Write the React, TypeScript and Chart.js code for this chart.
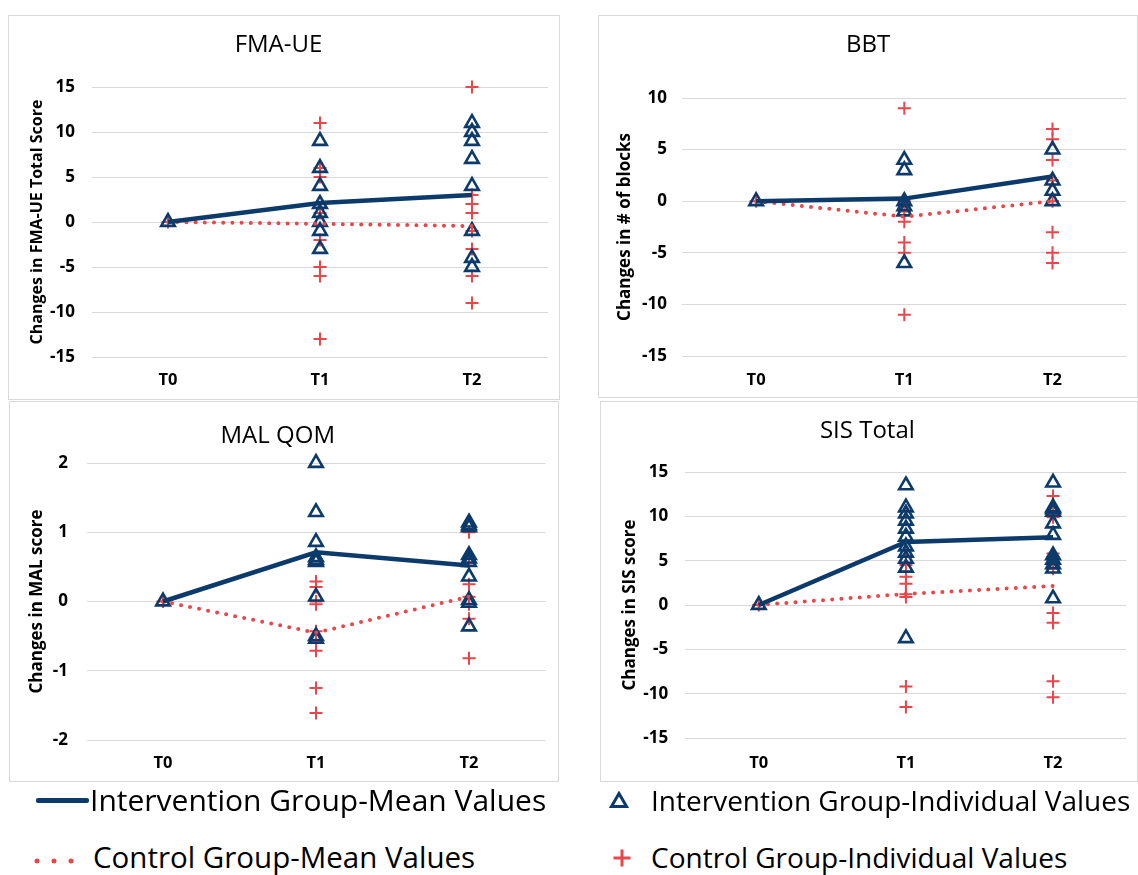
import React, { useEffect, useRef } from "react";
import { Chart, registerables } from "chart.js";

Chart.register(...registerables);

// ---------- data ----------
const categories = ["T0", "T1", "T2"];

// FMA-UE
const fmaIntT0 = [0];
const fmaIntT1 = [9, 6, 4, 2, 1, 0, -1, -3];
const fmaIntT2 = [11, 10, 9, 7, 4, -1, -4, -5];
const fmaCtrlT0 = [0];
const fmaCtrlT1 = [11, 6, 5, 1, -2, -5, -6, -13];
const fmaCtrlT2 = [15, 3, 2, 1, -1, -3, -6, -9];
const fmaIntMean = [0, 2.1, 3.0];
const fmaCtrlMean = [0, -0.2, -0.45];

// BBT
const bbtIntT0 = [0];
const bbtIntT1 = [4, 3, 0, -0.5, -1, -6];
const bbtIntT2 = [12, 5, 2, 1, 0];
const bbtCtrlT0 = [0];
const bbtCtrlT1 = [9, 0, -1, -2, -4, -5, -11];
const bbtCtrlT2 = [7, 6, 4, 2, 0, -3, -5, -6];
const bbtIntMean = [0, 0.25, 2.4];
const bbtCtrlMean = [0, -1.5, 0];

// MAL QOM
const malIntT0 = [0];
const malIntT1 = [2, 1.29, 0.86, 0.64, 0.6, 0.57, 0.07, -0.5, -0.54];
const malIntT2 = [1.14, 1.1, 1.07, 0.67, 0.62, 0.57, 0.36, 0.02, -0.02, -0.36];
const malCtrlT0 = [0];
const malCtrlT1 = [0.29, 0.21, 0, -0.04, -0.43, -0.57, -0.71, -1.25, -1.61];
const malCtrlT2 = [1.0, 0.55, 0.25, 0.07, -0.04, -0.25, -0.82];
const malIntMean = [0, 0.71, 0.52];
const malCtrlMean = [0, -0.45, 0.07];

// SIS Total
const sisIntT0 = [0];
const sisIntT1 = [13.5, 11, 10.3, 9.5, 8.6, 7.7, 6.6, 5.9, 5.2, 4.2, -3.75];
const sisIntT2 = [13.8, 11, 10.8, 10.5, 9.2, 7.9, 5.6, 5.1, 4.6, 4.1, 0.75];
const sisCtrlT0 = [0];
const sisCtrlT1 = [10.6, 6.2, 5.5, 4.5, 3.2, 2.4, 1.2, 0.9, -9.2, -11.5];
const sisCtrlT2 = [12.3, 10.3, 9.9, 5.8, 5.4, 4.1, -0.9, -2.0, -8.6, -10.4];
const sisIntMean = [0, 7.1, 7.65];
const sisCtrlMean = [0, 1.25, 2.15];

const legendLabels = [
  "Intervention Group-Mean Values",
  "Control Group-Mean Values",
  "Intervention Group-Individual Values",
  "Control Group-Individual Values",
];

// ---------- styles ----------
const NAVY = "#0b3a6b";
const RED = "#e8464a";
const FONT = "'Open Sans', sans-serif";
const GRID = "#d9d9d9";

function pts(t0: number[], t1: number[], t2: number[]) {
  return [
    ...t0.map((y) => ({ x: categories[0], y })),
    ...t1.map((y) => ({ x: categories[1], y })),
    ...t2.map((y) => ({ x: categories[2], y })),
  ];
}

type Panel = {
  title: string;
  yTitle: string;
  min: number;
  max: number;
  step: number;
  intMean: number[];
  ctrlMean: number[];
  intPts: { x: string; y: number }[];
  ctrlPts: { x: string; y: number }[];
  box: { left: number; top: number; w: number; h: number };
  yWidth: number;
  rightPad: number;
  xHeight: number;
  titlePad: { top: number; bottom: number };
  yTickPad: number;
  yTitleSize: number;
  yTitlePad: number;
  xTickPad: number;
};

const panels: Panel[] = [
  {
    title: "FMA-UE",
    yTitle: "Changes in FMA-UE Total Score",
    min: -15, max: 15, step: 5,
    intMean: fmaIntMean, ctrlMean: fmaCtrlMean,
    intPts: pts(fmaIntT0, fmaIntT1, fmaIntT2),
    ctrlPts: pts(fmaCtrlT0, fmaCtrlT1, fmaCtrlT2),
    box: { left: 8, top: 15, w: 552, h: 385 },
    yWidth: 83, rightPad: 11, xHeight: 42,
    titlePad: { top: 14.6, bottom: 27.6 },
    yTickPad: 17, yTitleSize: 16, yTitlePad: 18.4, xTickPad: 13,
  },
  {
    title: "BBT",
    yTitle: "Changes in # of blocks",
    min: -15, max: 10, step: 5,
    intMean: bbtIntMean, ctrlMean: bbtCtrlMean,
    intPts: pts(bbtIntT0, bbtIntT1, bbtIntT2),
    ctrlPts: pts(bbtCtrlT0, bbtCtrlT1, bbtCtrlT2),
    box: { left: 598, top: 15, w: 540, h: 383 },
    yWidth: 83, rightPad: 0, xHeight: 41,
    titlePad: { top: 14.6, bottom: 38.6 },
    yTickPad: 15, yTitleSize: 17, yTitlePad: 15.8, xTickPad: 14,
  },
  {
    title: "MAL QOM",
    yTitle: "Changes in MAL score",
    min: -2, max: 2, step: 1,
    intMean: malIntMean, ctrlMean: malCtrlMean,
    intPts: pts(malIntT0, malIntT1, malIntT2),
    ctrlPts: pts(malCtrlT0, malCtrlT1, malCtrlT2),
    box: { left: 9, top: 401, w: 550, h: 381 },
    yWidth: 76.5, rightPad: 12.5, xHeight: 41,
    titlePad: { top: 19.6, bottom: 12.6 },
    yTickPad: 18.5, yTitleSize: 17, yTitlePad: 16.8, xTickPad: 13,
  },
  {
    title: "SIS Total",
    yTitle: "Changes in SIS score",
    min: -15, max: 15, step: 5,
    intMean: sisIntMean, ctrlMean: sisCtrlMean,
    intPts: pts(sisIntT0, sisIntT1, sisIntT2),
    ctrlPts: pts(sisCtrlT0, sisCtrlT1, sisCtrlT2),
    box: { left: 600, top: 401, w: 538, h: 381 },
    yWidth: 84.25, rightPad: 3.25, xHeight: 43,
    titlePad: { top: 14.6, bottom: 26.6 },
    yTickPad: 17, yTitleSize: 17, yTitlePad: 18.8, xTickPad: 15,
  },
];

function ChartPanel({ p }: { p: Panel }) {
  const ref = useRef<HTMLCanvasElement | null>(null);
  useEffect(() => {
    if (!ref.current) return;
    const chart = new Chart(ref.current, {
      type: "line",
      data: {
        labels: categories,
        datasets: [
          {
            label: legendLabels[0],
            data: p.intMean,
            borderColor: NAVY,
            borderWidth: 4.5,
            pointRadius: 0,
            fill: false,
            tension: 0,
          },
          {
            label: legendLabels[1],
            data: p.ctrlMean,
            borderColor: RED,
            borderWidth: 4,
            borderDash: [0, 9.2],
            borderCapStyle: "round",
            pointRadius: 0,
            fill: false,
            tension: 0,
          },
          {
            label: legendLabels[2],
            data: p.intPts as any,
            showLine: false,
            pointStyle: "triangle",
            pointRadius: 7.8,
            pointBorderWidth: 2.6,
            pointBorderColor: NAVY,
            pointBackgroundColor: "rgba(0,0,0,0)",
            borderColor: NAVY,
            clip: false as any,
          },
          {
            label: legendLabels[3],
            data: p.ctrlPts as any,
            showLine: false,
            pointStyle: "cross",
            pointRadius: 6.5,
            pointBorderWidth: 2,
            pointBorderColor: RED,
            borderColor: RED,
            clip: false as any,
          },
        ],
      },
      options: {
        animation: false,
        responsive: false,
        events: [],
        layout: { padding: { left: 0, right: p.rightPad, top: 0, bottom: 0 } },
        plugins: {
          legend: { display: false },
          tooltip: { enabled: false },
          title: {
            display: true,
            text: p.title,
            color: "#000",
            font: { family: FONT, size: 24, weight: "normal" as any },
            padding: p.titlePad,
          },
        },
        scales: {
          x: {
            type: "category",
            offset: true,
            grid: { display: false, drawTicks: false },
            border: { display: false },
            ticks: {
              color: "#000",
              font: { family: FONT, size: 16.5, weight: "bold" as any },
              padding: p.xTickPad,
            },
            afterFit: (s: any) => {
              s.height = p.xHeight;
            },
          },
          y: {
            min: p.min,
            max: p.max,
            ticks: {
              stepSize: p.step,
              color: "#000",
              font: { family: FONT, size: 17, weight: "bold" as any },
              padding: p.yTickPad,
            },
            grid: { color: GRID, lineWidth: 1, drawTicks: false },
            border: { display: false },
            title: {
              display: true,
              text: p.yTitle,
              color: "#000",
              font: { family: FONT, size: p.yTitleSize, weight: "bold" as any },
              padding: { top: p.yTitlePad, bottom: 0 },
            },
            afterFit: (s: any) => {
              s.width = p.yWidth;
            },
          },
        },
      } as any,
    });
    return () => chart.destroy();
  }, [p]);

  const { left, top, w, h } = p.box;
  return (
    <div
      style={{
        position: "absolute",
        left,
        top,
        width: w,
        height: h,
        boxSizing: "border-box",
        border: `1px solid ${GRID}`,
        background: "#fff",
      }}
    >
      <canvas ref={ref} width={w - 2} height={h - 2} style={{ display: "block" }} />
    </div>
  );
}

const legendText: React.CSSProperties = {
  position: "absolute",
  fontFamily: FONT,
  whiteSpace: "nowrap",
  color: "#000",
};

export default function App() {
  return (
    <div
      style={{
        position: "absolute",
        left: 0,
        top: 0,
        width: 1138,
        height: 875,
        overflow: "hidden",
        background: "#fff",
      }}
    >
      {panels.map((p) => (
        <ChartPanel key={p.title} p={p} />
      ))}

      {/* legend */}
      <div
        style={{
          position: "absolute",
          left: 36,
          top: 797.5,
          width: 53,
          height: 5,
          background: NAVY,
          borderRadius: 2,
        }}
      />
      <div style={{ ...legendText, left: 90, top: 785, fontSize: 30, lineHeight: "30px" }}>
        {legendLabels[0]}
      </div>

      <svg style={{ position: "absolute", left: 30, top: 853 }} width={64} height={16}>
        <line
          x1={7}
          y1={8}
          x2={58}
          y2={8}
          stroke={RED}
          strokeWidth={5}
          strokeLinecap="round"
          strokeDasharray="0 17"
        />
      </svg>
      <div style={{ ...legendText, left: 93, top: 842, fontSize: 29.5, lineHeight: "30px" }}>
        {legendLabels[1]}
      </div>

      <svg style={{ position: "absolute", left: 609, top: 791 }} width={20} height={18}>
        <polygon points="10,2.5 17.5,15.5 2.5,15.5" fill="none" stroke={NAVY} strokeWidth={3} />
      </svg>
      <div style={{ ...legendText, left: 651, top: 785.5, fontSize: 28, lineHeight: "29px" }}>
        {legendLabels[2]}
      </div>

      <svg style={{ position: "absolute", left: 612, top: 848 }} width={20} height={20}>
        <line x1={10} y1={1.5} x2={10} y2={18.5} stroke={RED} strokeWidth={3} />
        <line x1={1.5} y1={10} x2={18.5} y2={10} stroke={RED} strokeWidth={3} />
      </svg>
      <div style={{ ...legendText, left: 651, top: 842.5, fontSize: 28, lineHeight: "29px" }}>
        {legendLabels[3]}
      </div>
    </div>
  );
}
